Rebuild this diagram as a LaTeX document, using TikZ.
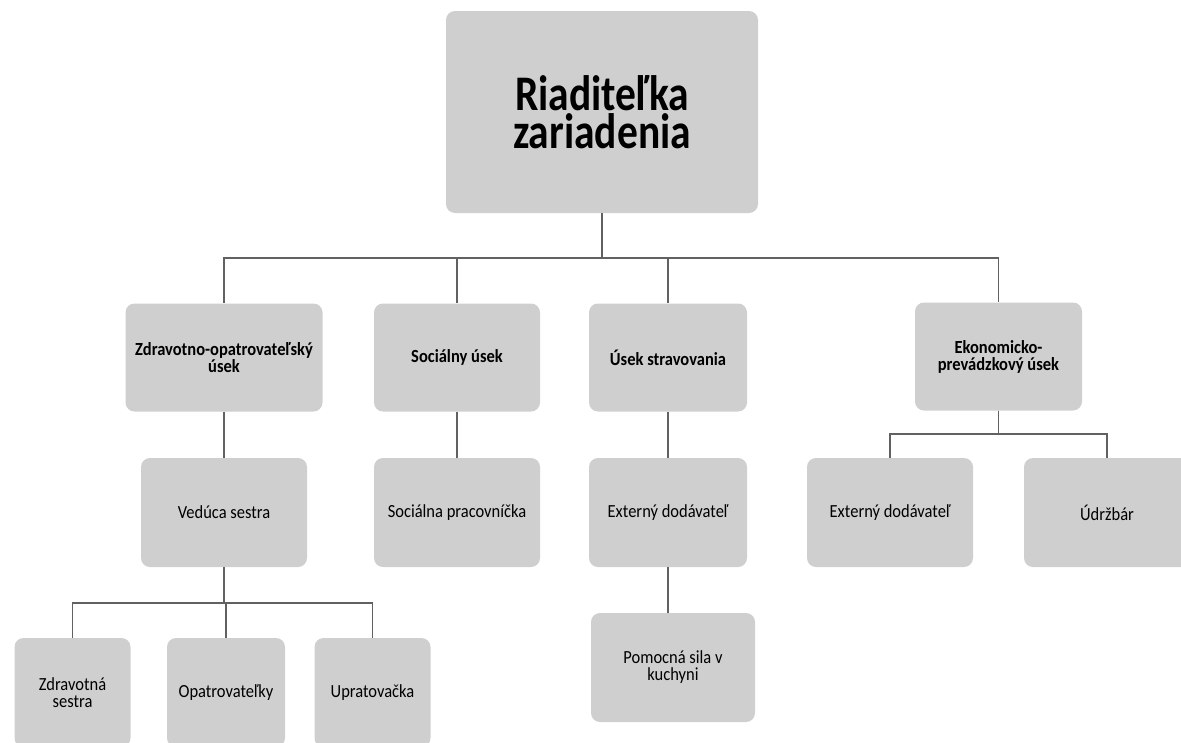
\documentclass[tikz,border=0pt]{standalone}
\usepackage{fontspec}
\setmainfont{Carlito}
\usepackage{graphicx}
\definecolor{boxgray}{gray}{0.81}
\definecolor{linegray}{gray}{0.38}
\newcommand{\lbl}[1]{\scalebox{1}[1.12]{\vbox{\lineskiplimit=-50pt\halign{\hfil##\hfil\cr#1\crcr}}}}
\newcommand{\biglbl}[1]{\scalebox{1}[1.2]{\vbox{\lineskiplimit=-50pt\halign{\hfil##\hfil\cr#1\crcr}}}}
\tikzset{
  orgbox/.style={fill=boxgray, draw=none, rounded corners=9pt, inner sep=0pt},
  l1/.style={orgbox, minimum height=108pt, font=\fontsize{16.5}{15.2}\selectfont\bfseries},
  l2/.style={orgbox, minimum height=109pt, font=\fontsize{16.5}{15.2}\selectfont},
  conn/.style={draw=linegray, line width=1.6pt}
}
\begin{document}
\begin{tikzpicture}[x=1pt,y=-1pt]
\useasboundingbox (0,0) rectangle (1181,742);
\clip (0,0) rectangle (1181,742);
% root
\node[orgbox, minimum width=312pt, minimum height=202pt, font=\fontsize{41.5}{32}\selectfont\bfseries] (root) at (602,112) {\biglbl{Riaditeľka\cr zariadenia}};
% level 1
\node[l1, minimum width=197pt] (z1) at (224,357.5) {\lbl{Zdravotno-opatrovateľský\cr úsek}};
\node[l1, minimum width=166pt] (s1) at (457,357.5) {\lbl{Sociálny úsek}};
\node[l1, minimum width=158pt] (u1) at (668,357.5) {\lbl{Úsek stravovania}};
\node[l1, minimum width=167pt] (e1) at (998.5,356.5) {\lbl{Ekonomicko-\cr prevádzkový úsek}};
% level 2
\node[l2, minimum width=166pt] (vs) at (224,512.5) {\lbl{Vedúca sestra}};
\node[l2, minimum width=166pt] (sp) at (457,512.5) {\lbl{Sociálna pracovníčka}};
\node[l2, minimum width=158pt] (ed1) at (668,512.5) {\lbl{Externý dodávateľ}};
\node[l2, minimum width=166pt] (ed2) at (890,512.5) {\lbl{Externý dodávateľ}};
\node[l2, minimum width=166pt] (ud) at (1107,512.5) {\lbl{Údržbár}};
% level 3
\node[l2, minimum width=116pt] (zs) at (72.5,692.5) {\lbl{Zdravotná\cr sestra}};
\node[l2, minimum width=118pt] (op) at (226,692.5) {\lbl{Opatrovateľky}};
\node[l2, minimum width=116pt] (up) at (372.5,692.5) {\lbl{Upratovačka}};
\node[l2, minimum width=164pt] (ps) at (673,667.5) {\lbl{Pomocná sila v\cr kuchyni}};
% connectors
\draw[conn] (root.south) -- ++(0,45) -| (z1.north);
\draw[conn] (root.south) -- ++(0,45) -| (s1.north);
\draw[conn] (root.south) -- ++(0,45) -| (u1.north);
\draw[conn] (root.south) -- ++(0,45) -| (e1.north);
\draw[conn] (z1.south) -- (vs.north);
\draw[conn] (s1.south) -- (sp.north);
\draw[conn] (u1.south) -- (ed1.north);
\draw[conn] (e1.south) -- ++(0,23) -| (ed2.north);
\draw[conn] (e1.south) -- ++(0,23) -| (ud.north);
\draw[conn] (vs.south) -- ++(0,36) -| (zs.north);
\draw[conn] (vs.south) -- ++(0,36) -| (op.north);
\draw[conn] (vs.south) -- ++(0,36) -| (up.north);
\draw[conn] (ed1.south) -- (ed1.south |- ps.north);
\end{tikzpicture}
\end{document}
